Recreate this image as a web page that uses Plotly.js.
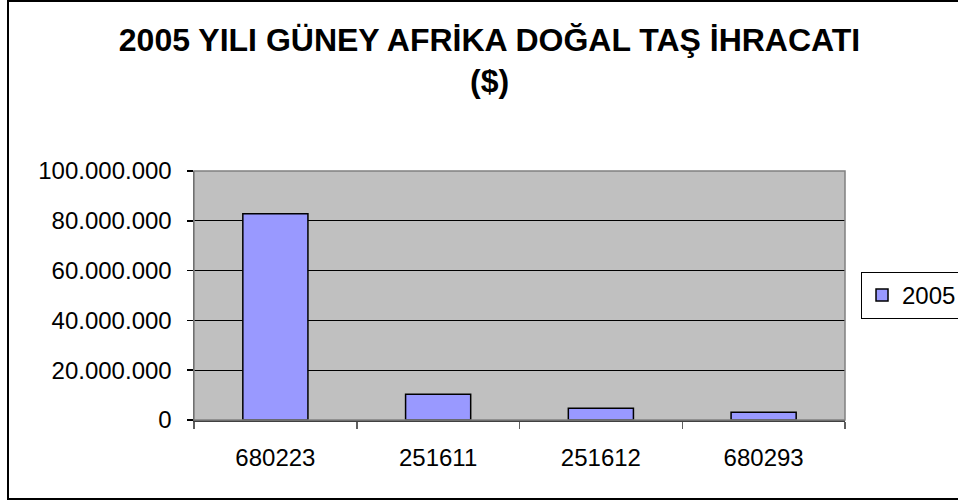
<!DOCTYPE html>
<html>
<head>
<meta charset="utf-8">
<script src="https://cdn.plot.ly/plotly-3.0.1.min.js"></script>
<style>
  html, body { margin: 0; padding: 0; background: #fff; overflow: hidden; }
  #wrap { position: relative; width: 958px; height: 500px; }
  #chart { width: 958px; height: 500px; }
  #frame { position: absolute; left: 7px; top: 0px; width: 970px; height: 496px;
           border: 2px solid #000; pointer-events: none; }
</style>
</head>
<body>
<div id="wrap">
  <div id="chart"></div>
  <div id="frame"></div>
</div>
<script>
const titleText = "2005 YILI GÜNEY AFRİKA DOĞAL TAŞ İHRACATI<br>($)";
const categories = ["680223", "251611", "251612", "680293"];
const seriesName = "2005";
const values2005 = [82800000, 10300000, 4700000, 3100000];
const yTickVals = [0, 20000000, 40000000, 60000000, 80000000, 100000000];

const FONT = "Liberation Sans, Arial, sans-serif";

const trace = {
  type: "bar",
  name: seriesName,
  x: categories,
  y: values2005,
  marker: { color: "#9999FF", line: { color: "#000000", width: 1.5 } },
  showlegend: true,
  hoverinfo: "x+y"
};

const layout = {
  width: 958,
  height: 500,
  paper_bgcolor: "#ffffff",
  plot_bgcolor: "#C0C0C0",
  separators: ",.",
  font: { family: FONT, color: "#000000", size: 24 },
  margin: { l: 194, r: 113, t: 171, b: 80, autoexpand: false },
  title: {
    text: titleText,
    font: { family: FONT, size: 32, color: "#000000", weight: "bold" },
    xref: "container", yref: "container",
    x: 0.511, xanchor: "center",
    y: 0.899, yanchor: "top"
  },
  bargap: 0.6,
  xaxis: {
    type: "category",
    showline: true, linecolor: "#404040", linewidth: 1.5,
    mirror: false,
    ticks: "outside", ticklen: 7, tickcolor: "#606060", tickwidth: 1.5,
    tickson: "boundaries",
    showgrid: false,
    tickfont: { family: FONT, size: 24, color: "#000" },
    ticklabelstandoff: 16
  },
  yaxis: {
    range: [0, 100000000],
    tickvals: yTickVals,
    tickformat: ",d",
    showline: true, linecolor: "#404040", linewidth: 1.5,
    ticks: "outside", ticklen: 6, tickcolor: "#000", tickwidth: 1.5,
    showgrid: true, gridcolor: "#000000", gridwidth: 1,
    zeroline: false,
    tickfont: { family: FONT, size: 24, color: "#000" },
    ticklabelstandoff: 10
  },
  shapes: [
    { type: "rect", xref: "paper", yref: "paper", x0: 0, x1: 1, y0: 0, y1: 1,
      line: { color: "#808080", width: 1.5 }, fillcolor: "rgba(0,0,0,0)", layer: "above" }
  ],
  legend: {
    x: 1.0246, xanchor: "left",
    y: 0.5, yanchor: "middle",
    bgcolor: "#ffffff",
    bordercolor: "#000000", borderwidth: 1,
    font: { family: FONT, size: 24, color: "#000" },
    itemwidth: 30
  }
};

Plotly.newPlot("chart", [trace], layout, { displayModeBar: false, staticPlot: true });
</script>
</body>
</html>
